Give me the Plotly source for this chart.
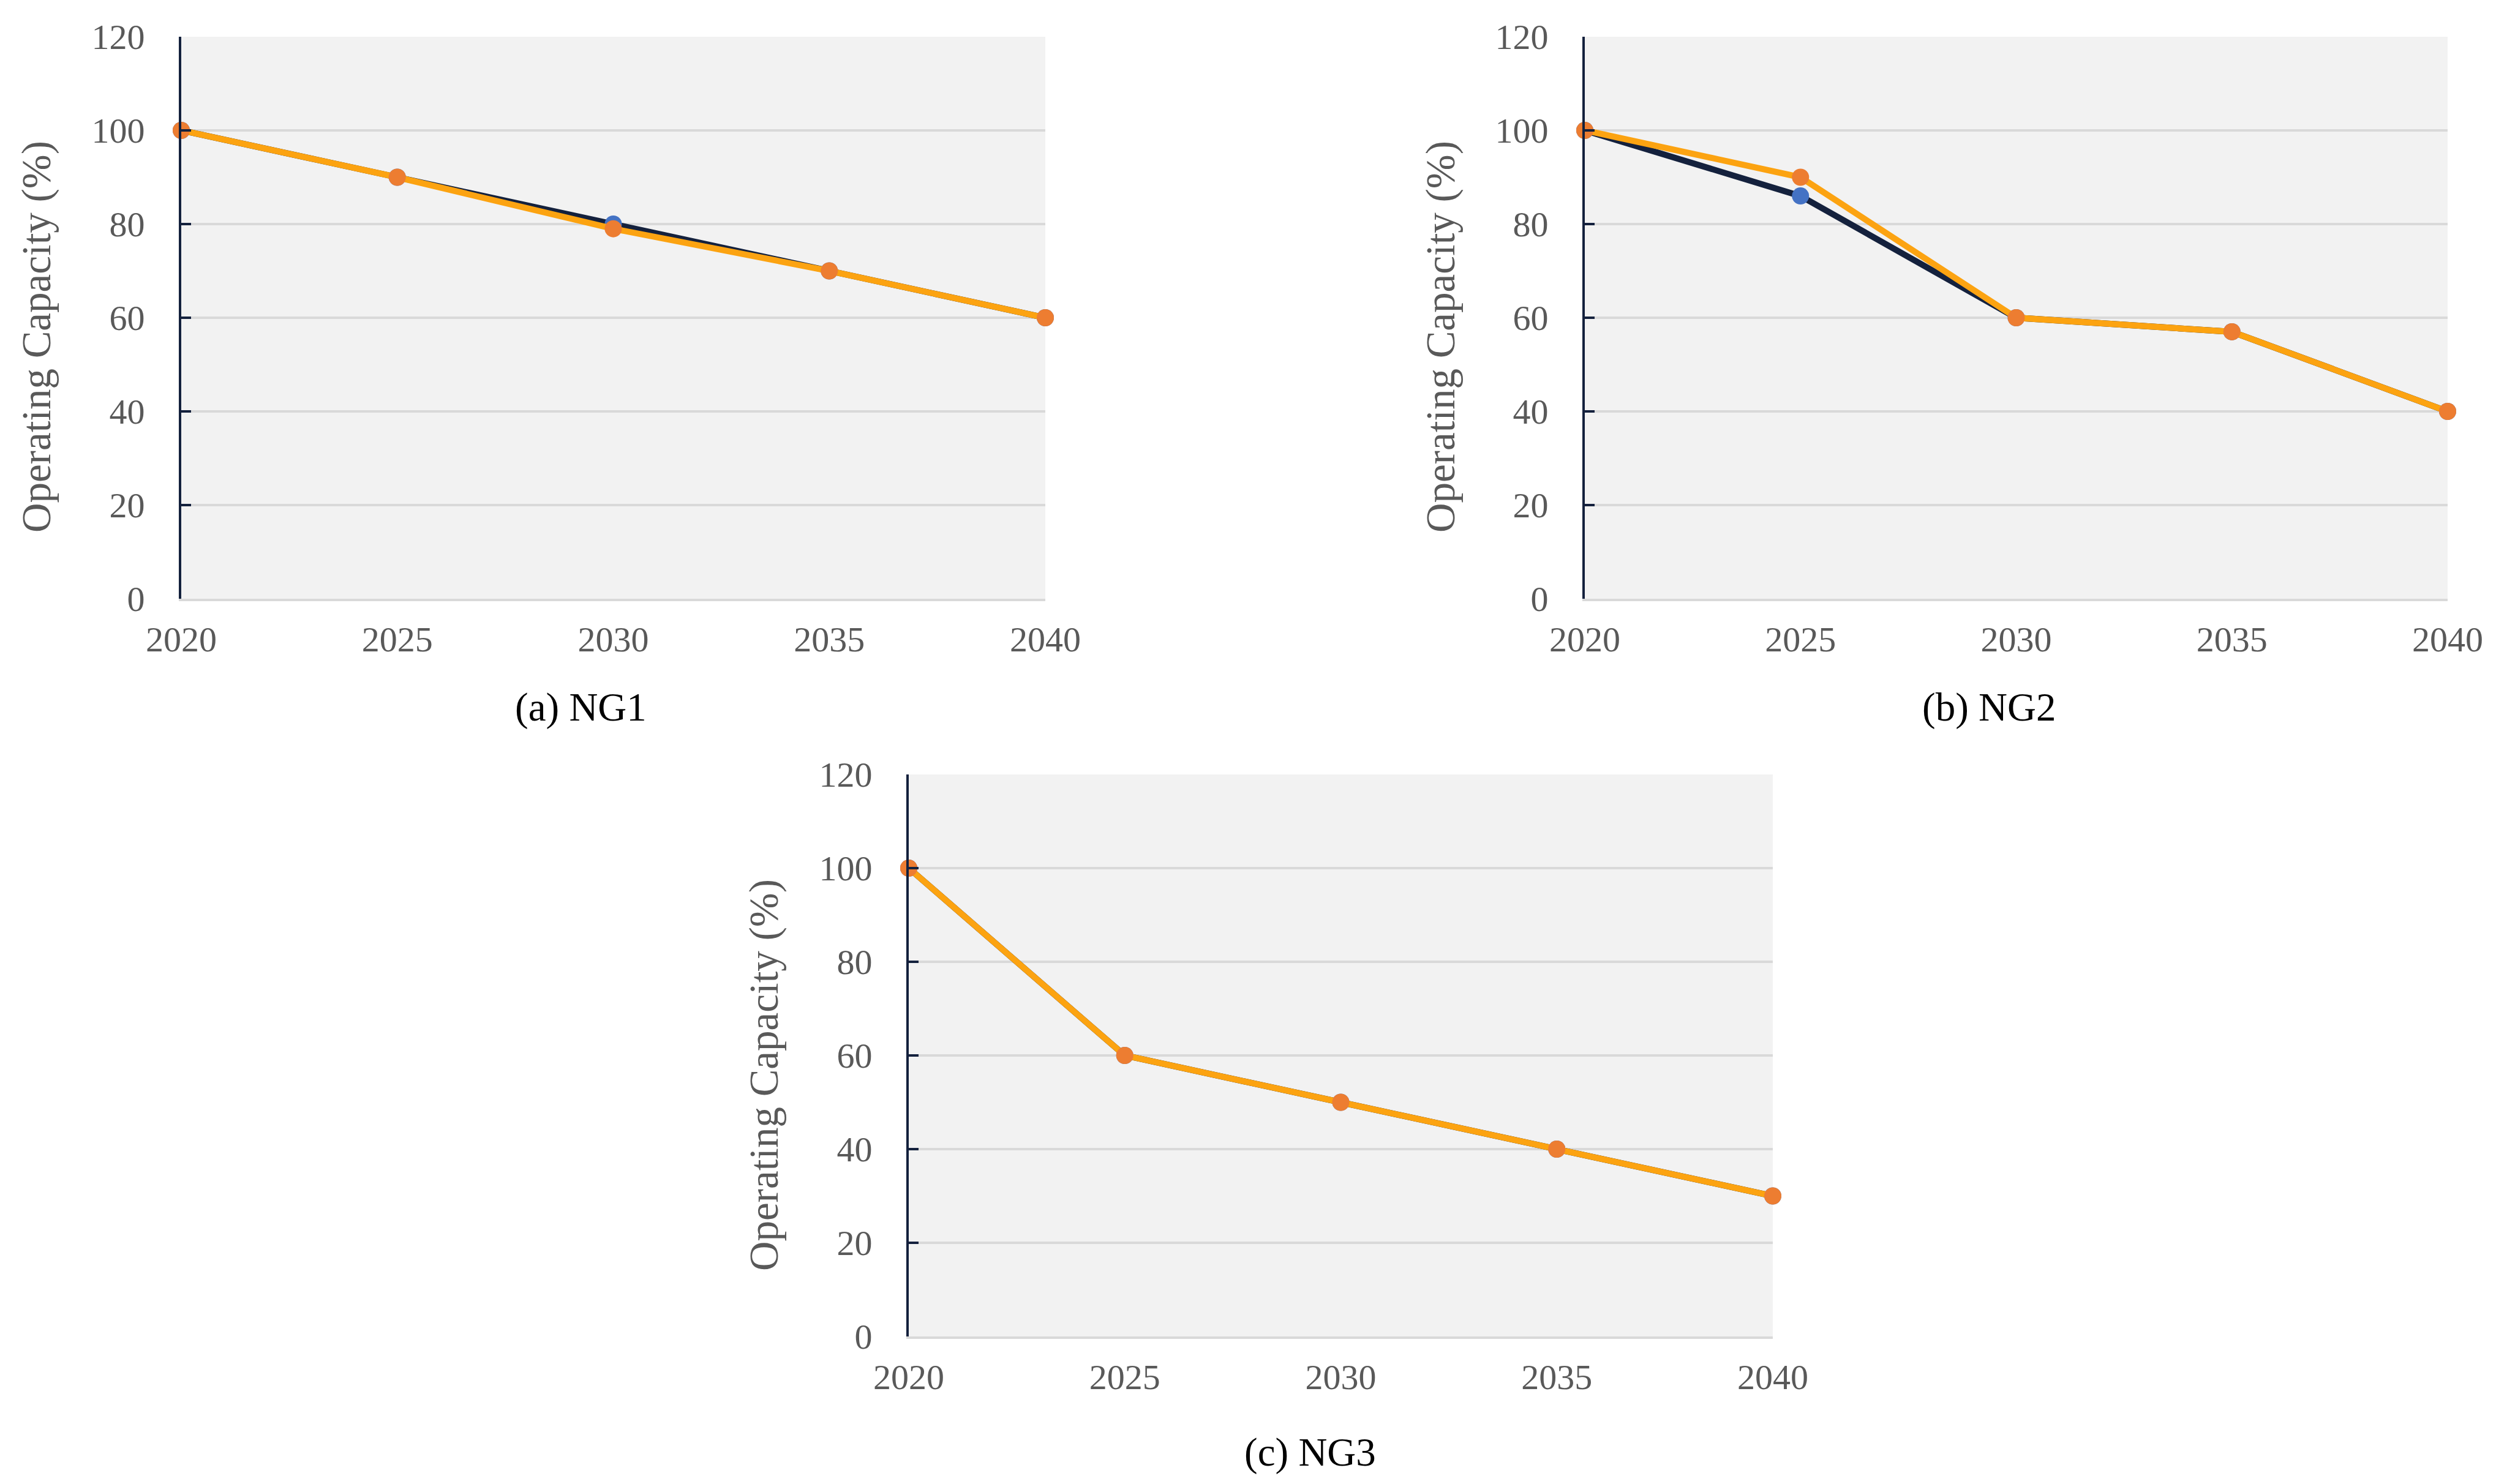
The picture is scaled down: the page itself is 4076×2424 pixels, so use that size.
import plotly.graph_objects as go

# ---- data ----
years = [2020, 2025, 2030, 2035, 2040]
ng1_series_a = [100, 90, 80, 70, 60]
ng1_series_b = [100, 90, 79, 70, 60]
ng2_series_a = [100, 86, 60, 57, 40]
ng2_series_b = [100, 90, 60, 57, 40]
ng3_series_a = [100, 60, 50, 40, 30]
ng3_series_b = [100, 60, 50, 40, 30]
y_ticks = [0, 20, 40, 60, 80, 100, 120]
x_ticks = [2020, 2025, 2030, 2035, 2040]
captions = ["(a) NG1", "(b) NG2", "(c) NG3"]
y_title = "Operating Capacity (%)"

W, H = 4076, 2424
FONT = "Liberation Serif"
NAVY = "#14213D"
ORANGE_LINE = "#FCA311"
ORANGE_MK = "#ED7D31"
BLUE_MK = "#4472C4"
GRID = "#D9D9D9"
TXT = "#595959"

def px_x(p):
    return p / W

def px_y(p):
    return 1 - p / H

# panel pixel boxes: (left, right, top, bottom)
boxes = [(296, 1707, 60, 978), (2588, 3997, 60, 978), (1484, 2895, 1265, 2183)]
series = [(ng1_series_a, ng1_series_b), (ng2_series_a, ng2_series_b), (ng3_series_a, ng3_series_b)]

fig = go.Figure()
layout = dict(
    width=W, height=H, margin=dict(l=0, r=0, t=0, b=0, autoexpand=False),
    paper_bgcolor="white", plot_bgcolor="#F2F2F2", showlegend=False,
    font=dict(family=FONT, color=TXT),
)
annotations = []
for i, ((l, r, t, b), (sa, sb)) in enumerate(zip(boxes, series)):
    n = "" if i == 0 else str(i + 1)
    xa, ya = "x" + n, "y" + n
    fig.add_trace(go.Scatter(x=years, y=sa, xaxis=xa, yaxis=ya, mode="lines+markers",
                             line=dict(color=NAVY, width=10),
                             marker=dict(color=BLUE_MK, size=28), cliponaxis=False))
    fig.add_trace(go.Scatter(x=years, y=sb, xaxis=xa, yaxis=ya, mode="lines+markers",
                             line=dict(color=ORANGE_LINE, width=10),
                             marker=dict(color=ORANGE_MK, size=28), cliponaxis=False))
    layout["xaxis" + n] = dict(
        domain=[px_x(l), px_x(r)], anchor=ya, range=[2020, 2040], automargin=False,
        tickvals=x_ticks, showgrid=False, zeroline=False,
        showline=True, linecolor=GRID, linewidth=4, ticks="",
        tickfont=dict(family=FONT, size=58, color=TXT), ticklabelstandoff=12,
    )
    layout["yaxis" + n] = dict(
        domain=[px_y(b), px_y(t)], anchor=xa, range=[0, 120], automargin=False,
        tickvals=y_ticks, showgrid=True, gridcolor=GRID, gridwidth=4, zeroline=False,
        showline=True, linecolor=NAVY, linewidth=4,
        ticks="inside", ticklen=16, tickwidth=4, tickcolor=NAVY,
        tickfont=dict(family=FONT, size=58, color=TXT), ticklabelstandoff=44,
    )

# y-axis titles
for (cx, cy) in [(59, 550), (2352, 550), (1247, 1756)]:
    annotations.append(dict(text=y_title, x=px_x(cx), y=px_y(cy), xref="paper", yref="paper",
                            showarrow=False, textangle=-90, xanchor="center", yanchor="middle",
                            font=dict(family=FONT, size=67, color=TXT)))
# captions
for cap, (cx, cy) in zip(captions, [(948, 1155), (3248, 1155), (2139, 2372)]):
    annotations.append(dict(text=cap, x=px_x(cx), y=px_y(cy), xref="paper", yref="paper",
                            showarrow=False, xanchor="center", yanchor="middle",
                            font=dict(family=FONT, size=65, color="#000000")))
layout["annotations"] = annotations
fig.update_layout(**layout)
fig.write_html(
    "out.html",
    config={"displayModeBar": False},
    post_script="document.body.style.margin='0';document.body.style.overflow='hidden';",
)
